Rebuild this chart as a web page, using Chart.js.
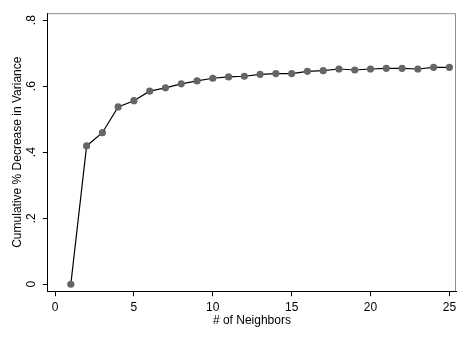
<!DOCTYPE html>
<html>
<head>
<meta charset="utf-8">
<script src="https://cdn.jsdelivr.net/npm/chart.js@4/dist/chart.umd.min.js"></script>
<style>
  html, body { margin: 0; padding: 0; background: #fff; }
  #wrap { width: 468px; height: 340px; }
</style>
</head>
<body>
<div id="wrap"><canvas id="miGrafico" width="468" height="340"></canvas></div>
<script>
// datos
const vecinos = [1, 2, 3, 4, 5, 6, 7, 8, 9, 10, 11, 12, 13, 14, 15, 16, 17, 18, 19, 20, 21, 22, 23, 24, 25];
const reduccion = [0, 0.419, 0.459, 0.537, 0.556, 0.585, 0.595, 0.607, 0.616, 0.624, 0.628, 0.630, 0.636,
                   0.638, 0.638, 0.645, 0.647, 0.652, 0.649, 0.652, 0.654, 0.654, 0.652, 0.657, 0.657];
const xTicks = [0, 5, 10, 15, 20, 25];
const yTicks = [0, 0.2, 0.4, 0.6, 0.8];
const yLabels = {0: '0', 0.2: '.2', 0.4: '.4', 0.6: '.6', 0.8: '.8'};

const fuente = { family: 'Arial, "Liberation Sans", Helvetica, sans-serif', size: 12 };

// marco gris arriba y a la derecha
const marco = {
    id: 'marco',
    afterDraw(chart) {
        const a = chart.chartArea;
        const c = chart.ctx;
        c.save();
        c.strokeStyle = '#8c8c8c';
        c.lineWidth = 1;
        c.beginPath();
        c.moveTo(a.left, a.top + 0.5);
        c.lineTo(a.right - 0.5, a.top + 0.5);
        c.lineTo(a.right - 0.5, a.bottom);
        c.stroke();
        c.restore();
    }
};

const ctx = document.getElementById('miGrafico').getContext('2d');
const myChart = new Chart(ctx, {
    type: 'line',
    data: {
        datasets: [{
            data: vecinos.map((v, i) => ({ x: v, y: reduccion[i] })),
            borderColor: '#000',
            borderWidth: 1.2,
            pointRadius: 3.6,
            pointBackgroundColor: '#666666',
            pointBorderWidth: 0,
            pointBorderColor: '#666666',
            tension: 0
        }]
    },
    options: {
        responsive: false,
        animation: false,
        layout: { padding: { top: 12, right: 12, bottom: 12, left: 10 } },
        plugins: {
            legend: { display: false },
            tooltip: { enabled: false }
        },
        scales: {
            x: {
                type: 'linear',
                min: -0.46,
                max: 25.42,
                afterBuildTicks: (s) => { s.ticks = xTicks.map(v => ({ value: v })); },
                ticks: { color: '#000', font: fuente, padding: 4, maxRotation: 0, autoSkip: false },
                grid: { drawOnChartArea: false, drawTicks: true, tickLength: 5, color: '#000' },
                border: { color: '#000', width: 1 },
                title: { display: true, text: '# of Neighbors', color: '#000', font: fuente, padding: { top: -5, bottom: 0 } }
            },
            y: {
                type: 'linear',
                min: -0.021,
                max: 0.821,
                afterBuildTicks: (s) => { s.ticks = yTicks.map(v => ({ value: v })); },
                ticks: {
                    color: '#000', font: fuente, padding: 6, minRotation: 90, maxRotation: 90, autoSkip: false,
                    crossAlign: 'center',
                    callback: (v) => yLabels[v]
                },
                grid: { drawOnChartArea: false, drawTicks: true, tickLength: 5, color: '#000' },
                border: { color: '#000', width: 1 },
                title: { display: true, text: 'Cumulative % Decrease in Variance', color: '#000', font: fuente, padding: { top: 0, bottom: -8 } }
            }
        }
    },
    plugins: [marco]
});
</script>
</body>
</html>
